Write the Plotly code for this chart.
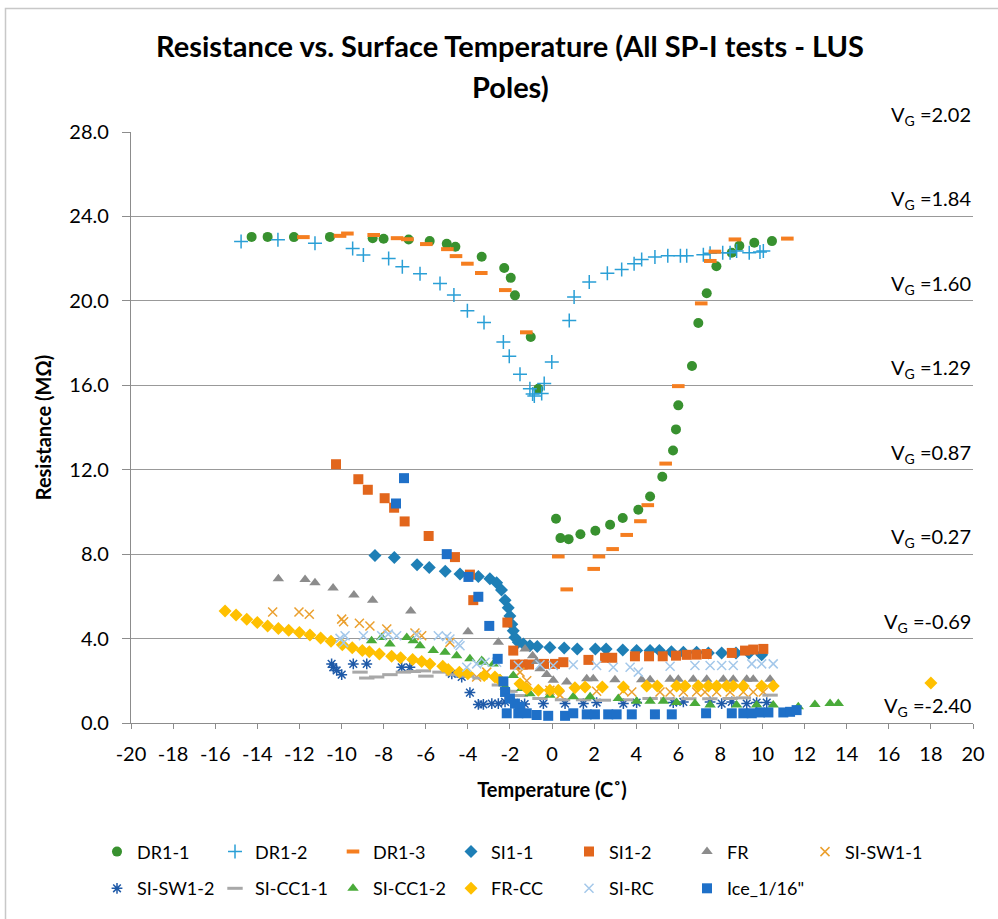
import plotly.graph_objects as go

# ---------------- data ----------------
DR1_1_T = [-14.27,-13.51,-12.26,-10.55,-8.52,-8.0,-6.81,-5.81,-5.0,-4.59,-3.34,-2.27,-1.96,-1.76,-1.01,-0.65,0.19,0.40,0.79,1.35,2.06,2.76,3.36,4.10,4.66,5.24,5.75,5.89,6.0,6.65,6.95,7.35,7.81,8.54,8.90,9.61,10.45]
DR1_1_R = [23.03,23.03,23.02,23.03,22.97,22.94,22.91,22.83,22.70,22.56,22.09,21.56,21.09,20.26,18.29,15.83,9.68,8.76,8.71,8.94,9.11,9.39,9.71,10.10,10.73,11.67,12.91,13.91,15.05,16.91,18.95,20.36,21.64,22.28,22.61,22.75,22.83]

DR1_2_T = [-14.77,-13.02,-11.26,-9.47,-8.96,-7.76,-7.11,-6.27,-5.32,-4.66,-4.02,-3.23,-2.31,-2.03,-1.52,-1.05,-0.92,-0.84,-0.49,-0.37,-0.01,0.82,1.05,1.77,2.63,3.31,3.90,4.26,4.89,5.50,6.10,6.40,7.19,7.51,8.11,8.46,8.77,9.37,9.88,10.04]
DR1_2_R = [22.81,22.89,22.73,22.48,22.17,22.01,21.61,21.29,20.82,20.28,19.53,18.98,18.05,17.38,16.52,15.83,15.59,15.49,15.61,16.08,17.10,19.07,20.18,20.89,21.31,21.48,21.76,21.96,22.08,22.14,22.14,22.14,22.19,22.25,22.28,22.28,22.36,22.28,22.31,22.36]

DR1_3_T = [-11.81,-10.07,-9.72,-8.47,-7.36,-6.87,-5.97,-4.97,-4.56,-4.02,-3.36,-2.22,-1.22,0.30,0.70,1.98,2.23,2.88,3.55,4.20,4.55,5.40,6.0,7.09,7.52,7.74,8.69,11.18]
DR1_3_R = [23.02,23.08,23.19,23.12,22.97,22.92,22.69,22.45,22.12,21.76,21.32,20.51,18.51,7.89,6.33,7.30,7.89,8.24,8.91,9.56,10.32,12.29,15.96,19.88,21.89,22.33,22.91,22.95]

SI1_1_T = [-8.41,-7.49,-6.41,-5.83,-5.07,-4.37,-3.50,-2.95,-2.63,-2.40,-2.23,-2.08,-2.0,-1.91,-1.84,-1.76,-1.60,-1.36,-1.05,-0.70,-0.10,0.58,1.20,2.06,2.57,3.36,4.02,4.66,5.10,5.67,6.24,6.87,7.43,8.06,8.74,9.36,9.96]
SI1_1_R = [7.94,7.84,7.50,7.37,7.19,7.06,6.94,6.83,6.64,6.30,5.82,5.46,5.07,4.68,4.37,4.05,3.82,3.74,3.66,3.63,3.58,3.55,3.51,3.51,3.51,3.46,3.43,3.43,3.43,3.38,3.35,3.35,3.32,3.32,3.32,3.32,3.23]

SI1_2_T = [-10.26,-9.2,-8.75,-7.95,-7.5,-7.0,-5.86,-4.61,-3.90,-3.74,-2.12,-1.84,-1.76,-1.39,-1.09,-0.38,0.14,0.54,1.73,2.52,2.86,3.94,4.61,5.26,5.89,6.40,6.87,7.35,8.54,9.17,9.56,10.04]
SI1_2_R = [12.26,11.55,11.05,10.65,10.2,9.55,8.86,7.86,7.03,5.82,4.76,3.43,2.77,2.77,2.77,2.80,2.80,2.88,2.99,3.09,3.09,3.16,3.16,3.16,3.19,3.23,3.24,3.27,3.32,3.43,3.48,3.51]

FR_T = [-13.0,-11.73,-11.26,-10.40,-9.41,-8.52,-6.71,-3.99,-2.55,-1.28,-0.92,-0.73,-0.57,-0.25,0.06,0.70,1.65,1.96,2.99,4.26,4.66,5.61,6.0,6.71,7.35,8.14,8.61,9.25,9.56,10.36]
FR_R = [6.84,6.80,6.64,6.40,6.07,5.82,5.31,4.32,3.82,3.51,3.19,2.91,2.57,2.30,2.02,1.94,2.10,2.10,2.05,2.05,2.05,2.07,2.07,2.07,2.07,2.07,2.07,2.07,2.07,2.07]

SI_SW1_1_T = [-13.27,-12.02,-11.53,-9.99,-9.9,-9.15,-8.65,-7.85,-6.51,-6.19,-4.85,-3.58,-3.10,-1.52,-1.2,-0.1,0.38,2.12,3.39,3.79,5.13,5.61,6.24,6.87,7.27,7.82,8.46,9.09,9.56,10.04]
SI_SW1_1_R = [5.26,5.26,5.15,4.92,4.80,4.73,4.60,4.45,4.26,4.13,3.82,2.18,2.41,2.41,2.0,1.55,1.32,1.50,1.52,1.47,1.47,1.47,1.47,1.47,1.47,1.47,1.47,1.47,1.47,1.47]

SI_SW1_2_T = [-10.47,-10.39,-10.23,-9.99,-9.44,-8.80,-7.14,-6.75,-4.76,-4.29,-3.90,-3.50,-3.26,-2.86,-2.55,-2.23,-1.8,-1.3,-0.41,0.62,1.49,2.12,3.39,4.02,5.76,6.24,7.51,8.06,8.54,9.25,9.72,10.2]
SI_SW1_2_R = [2.80,2.64,2.49,2.29,2.80,2.80,2.64,2.64,2.33,2.18,1.44,0.88,0.88,0.92,0.92,1.0,0.95,0.9,0.92,0.92,0.92,0.97,0.92,0.97,0.97,1.0,1.0,0.92,1.0,0.92,0.97,0.97]

SI_CC1_1_T = [-9.12,-8.80,-8.33,-7.70,-7.06,-6.59,-6.11,-5.99,-5.32,-4.69,-4.05,-3.42,-2.5,-2.0,-1.5,-0.57,0.5,1.5,2.44,3.5,4.66,5.5,6.5,7.5,8.46,9.09,10.36]
SI_CC1_1_R = [2.41,2.13,2.18,2.29,2.41,2.44,2.47,2.22,2.41,2.29,2.22,2.13,1.8,1.5,1.3,1.16,1.1,1.1,1.08,1.1,1.16,1.15,1.15,1.15,1.16,1.19,1.32]

SI_CC1_2_T = [-8.57,-8.09,-7.70,-6.90,-6.59,-6.27,-5.64,-5.08,-4.53,-3.90,-3.34,-3.26,-2.79,-2.47,-2.23,-1.84,-1.44,-1.05,-0.10,1.01,1.81,3.15,4.02,4.66,5.29,5.92,6.79,7.51,8.77,9.72,10.51,11.70,12.49,13.21,13.60]
SI_CC1_2_R = [3.90,4.05,3.74,4.05,3.90,3.66,3.43,3.35,3.19,3.04,2.96,2.88,2.80,2.10,1.71,2.25,1.63,1.39,1.32,1.24,1.24,1.16,1.03,1.03,1.03,0.97,0.92,0.85,0.85,0.85,0.85,0.77,0.88,0.92,0.92]

FR_CC_T = [-15.53,-15.01,-14.50,-14.0,-13.51,-13.0,-12.51,-12.0,-11.50,-10.99,-10.50,-9.96,-9.49,-9.01,-8.68,-8.20,-7.62,-7.19,-6.62,-6.19,-5.80,-5.19,-4.93,-4.40,-4.0,-3.22,-2.71,-2.47,-1.52,-1.20,-0.65,-0.1,0.30,1.09,1.57,2.39,3.39,4.50,5.0,5.92,6.32,6.95,7.43,7.82,8.30,8.61,9.09,9.96,10.51,18.0]
FR_CC_R = [5.31,5.12,4.92,4.76,4.60,4.48,4.40,4.29,4.17,4.03,3.87,3.71,3.56,3.43,3.38,3.27,3.16,3.09,3.01,2.91,2.80,2.69,2.54,2.41,2.33,2.25,2.18,2.02,1.86,1.63,1.55,1.55,1.55,1.67,1.71,1.71,1.71,1.75,1.75,1.75,1.75,1.75,1.75,1.75,1.75,1.75,1.75,1.75,1.75,1.9]

SI_RC_T = [-10.07,-9.83,-9.9,-8.96,-8.09,-7.78,-7.38,-6.43,-5.40,-5.0,-4.85,-4.45,-4.37,-4.05,-3.58,-3.18,-2.63,-1.60,-0.57,0.06,1.01,2.12,2.91,3.71,4.10,5.61,6.79,7.51,8.06,8.61,9.49,9.96,10.51]
SI_RC_R = [4.01,4.13,3.80,4.13,4.13,4.21,4.13,4.17,4.13,4.10,3.98,3.74,3.66,2.64,2.80,2.88,2.88,2.72,2.76,2.72,2.76,2.72,2.64,2.64,2.41,2.69,2.72,2.72,2.72,2.72,2.80,2.80,2.80]

ICE_T = [-7.03,-7.41,-5.0,-3.97,-3.50,-2.98,-2.58,-2.31,-2.23,-2.0,-1.76,-1.52,-2.15,-1.60,-1.20,-0.73,-0.18,0.62,1.01,1.65,2.04,2.67,3.07,3.79,4.89,5.69,7.32,8.54,9.09,9.49,9.88,10.28,10.99,11.31,11.62]
ICE_R = [11.6,10.4,8.0,6.92,5.98,4.60,3.04,1.97,1.47,1.16,0.92,0.77,0.46,0.46,0.46,0.38,0.34,0.34,0.46,0.41,0.41,0.41,0.41,0.41,0.41,0.41,0.46,0.46,0.46,0.46,0.50,0.50,0.50,0.53,0.61]

X_TICKS = [-20, -18, -16, -14, -12, -10, -8, -6, -4, -2, 0, 2, 4, 6, 8, 10, 12, 14, 16, 18, 20]
X_TICK_TEXT = ["-20", "-18", "-16", "-14", "-12", "-10", "-8", "-6", "-4", "-2", "0", "2", "4", "6", "8", "10", "12", "14", "16", "18", "20"]

VG_LEVELS = [28, 24, 20, 16, 12, 8, 4, 0]
VG_LABELS = ["2.02", "1.84", "1.60", "1.29", "0.87", "0.27", "-0.69", "-2.40"]

TITLE_LINES = ["Resistance vs. Surface Temperature (All SP-I tests - LUS", "Poles)"]

FONT = "Lato"

series = [
    ("DR1-1", DR1_1_T, DR1_1_R, dict(symbol="circle", size=10, color="#38912f"), "legend"),
    ("DR1-2", DR1_2_T, DR1_2_R, dict(symbol="cross-thin", size=10, color="#2a9fd6", line=dict(color="#2a9fd6", width=1.5)), "legend"),
    ("DR1-3", DR1_3_T, DR1_3_R, dict(symbol="line-ew", size=9, color="#f57e20", line=dict(color="#f57e20", width=4)), "legend"),
    ("SI1-1", SI1_1_T, SI1_1_R, dict(symbol="diamond", size=10, color="#1e7fb6"), "legend"),
    ("SI1-2", SI1_2_T, SI1_2_R, dict(symbol="square", size=10, color="#e2661c"), "legend"),
    ("FR", FR_T, FR_R, dict(symbol="triangle-up", size=10, color="#8c8c8c"), "legend"),
    ("SI-SW1-1", SI_SW1_1_T, SI_SW1_1_R, dict(symbol="x-thin", size=9, color="#eba02f", line=dict(color="#eba02f", width=1.5)), "legend"),
    ("SI-SW1-2", SI_SW1_2_T, SI_SW1_2_R, dict(symbol="asterisk", size=9, color="#1f5aa8", line=dict(color="#1f5aa8", width=1.5)), "legend2"),
    ("SI-CC1-1", SI_CC1_1_T, SI_CC1_1_R, dict(symbol="line-ew", size=11, color="#a8a8a8", line=dict(color="#a8a8a8", width=3)), "legend2"),
    ("SI-CC1-2", SI_CC1_2_T, SI_CC1_2_R, dict(symbol="triangle-up", size=10, color="#4aab3a"), "legend2"),
    ("FR-CC", FR_CC_T, FR_CC_R, dict(symbol="diamond", size=10, color="#ffc000"), "legend2"),
    ("SI-RC", SI_RC_T, SI_RC_R, dict(symbol="x-thin", size=9, color="#a4c8ea", line=dict(color="#a4c8ea", width=1.5)), "legend2"),
    ("Ice_1/16\"", ICE_T, ICE_R, dict(symbol="square", size=10, color="#1f70c8"), "legend2"),
]

fig = go.Figure()
for name, t, r, mk, lg in series:
    fig.add_trace(go.Scatter(x=t, y=r, mode="markers", name=name, marker=mk, legend=lg))

W, H = 998, 919
L, R, T, B = 131, 25, 132, 191
pw, ph = W - L - R, H - T - B

def px(xp):
    return (xp - L) / pw

def py(yp):
    return (H - B - yp) / ph

annotations = []
for lvl, lab in zip(VG_LEVELS, VG_LABELS):
    annotations.append(dict(
        x=1, xref="paper", y=lvl, yref="y", xanchor="right", yanchor="bottom",
        text="V<sub>G</sub> =" + lab, showarrow=False, yshift=1,
        font=dict(family=FONT, size=20, color="#000000")))
annotations.append(dict(x=px(510), y=py(45), xref="paper", yref="paper", xanchor="center", yanchor="middle",
                        text="<b>" + TITLE_LINES[0] + "</b>", showarrow=False,
                        font=dict(family=FONT, size=29, color="#000000")))
annotations.append(dict(x=px(510), y=py(86), xref="paper", yref="paper", xanchor="center", yanchor="middle",
                        text="<b>" + TITLE_LINES[1] + "</b>", showarrow=False,
                        font=dict(family=FONT, size=29, color="#000000")))

legend_common = dict(orientation="h", xanchor="left", yanchor="middle", entrywidth=73,
                     entrywidthmode="pixels", font=dict(family=FONT, size=18, color="#000000"),
                     bgcolor="rgba(0,0,0,0)", itemclick=False, traceorder="normal")

fig.update_layout(
    width=W, height=H,
    margin=dict(l=L, r=R, t=T, b=B),
    paper_bgcolor="white", plot_bgcolor="white",
    font=dict(family=FONT, size=18, color="#000000"),
    showlegend=True,
    legend=dict(x=px(97), y=py(858), **legend_common),
    legend2=dict(x=px(97), y=py(895), **legend_common),
    annotations=annotations,
    shapes=[dict(type="rect", xref="paper", yref="paper",
                 x0=px(5.5), x1=px(1010), y0=py(935), y1=py(7.5),
                 line=dict(color="#c8c8c8", width=1.5), fillcolor="rgba(0,0,0,0)", layer="below")],
    xaxis=dict(range=[-20, 20], tickmode="array", tickvals=X_TICKS, ticktext=X_TICK_TEXT,
               showgrid=False, zeroline=False,
               showline=True, linecolor="#8c8c8c", linewidth=1.3,
               ticks="outside", ticklen=5, tickcolor="#8c8c8c", tickwidth=1.3,
               ticklabelstandoff=8,
               tickfont=dict(family=FONT, size=20, color="#000000"),
               title=dict(text="<b>Temperature (C˚)</b>", font=dict(family=FONT, size=20, color="#000000"), standoff=18)),
    yaxis=dict(range=[0, 28], dtick=4, tick0=0, tickformat=".1f", showgrid=True,
               gridcolor="#999999", gridwidth=1.3, zeroline=False,
               showline=True, linecolor="#8c8c8c", linewidth=1.3,
               ticks="outside", ticklen=8, tickcolor="#8c8c8c", tickwidth=1.3,
               ticklabelstandoff=9,
               tickfont=dict(family=FONT, size=20, color="#000000"),
               title=dict(text="<b>Resistance (MΩ)</b>", font=dict(family=FONT, size=20, color="#000000"), standoff=12)),
)

fig.write_html("out.html")
